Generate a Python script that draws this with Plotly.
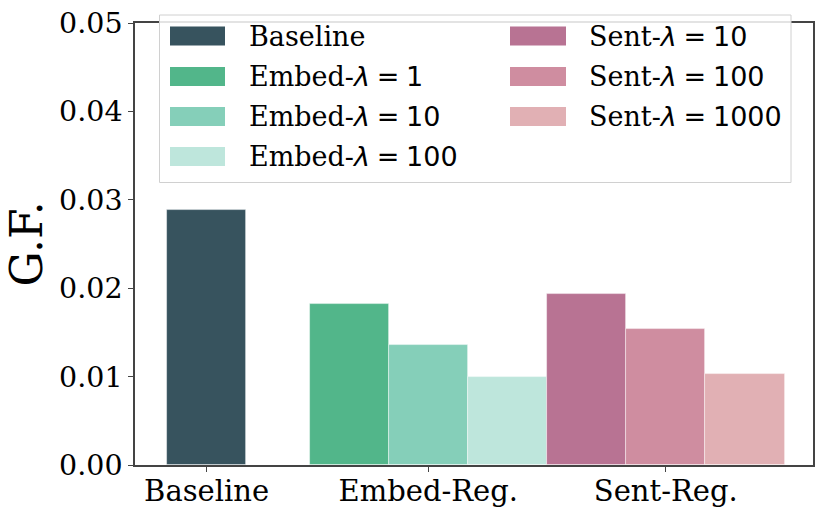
import plotly.graph_objects as go

# ---------------- data ----------------
categories = ["Baseline", "Embed-Reg.", "Sent-Reg."]

baseline_name = "Baseline"
baseline_value = [0.0288]

embed_lambdas = ["1", "10", "100"]
embed_values = [0.0182, 0.0136, 0.0099]

sent_lambdas = ["10", "100", "1000"]
sent_values = [0.0193, 0.0154, 0.0103]

y_ticks = [0.00, 0.01, 0.02, 0.03, 0.04, 0.05]
y_tick_labels = ["0.00", "0.01", "0.02", "0.03", "0.04", "0.05"]

# ---------------- style ----------------
baseline_color = "#37535E"
embed_colors = ["#52B68A", "#85CFB9", "#BEE6DC"]
sent_colors = ["#B87393", "#CF8DA0", "#E1B0B4"]

SERIF = "DejaVu Serif"
W, H = 830, 519
L, R, T, B = 135, 17, 23, 54
plot_w = W - L - R
plot_h = H - T - B

cat_pos = [0.0, 2.8, 5.8]      # category centres (bar-width units)
offsets = [-1.0, 0.0, 1.0]      # dodge within group
bar_w = 1.0
edge = dict(color="rgba(255,255,255,0.55)", width=0.8)
SP = "\u2005"


def lam_label(prefix, val):
    return (f"{prefix}-<span style=\"font-family:DejaVu Sans\"><i>λ</i>{SP}={SP}{val}</span>")


fig = go.Figure()

fig.add_trace(go.Bar(x=[cat_pos[0]], y=baseline_value, width=bar_w,
                     marker=dict(color=baseline_color, line=edge),
                     name=baseline_name, showlegend=False))
for i, (lam, v) in enumerate(zip(embed_lambdas, embed_values)):
    fig.add_trace(go.Bar(x=[cat_pos[1] + offsets[i]], y=[v], width=bar_w,
                         marker=dict(color=embed_colors[i], line=edge),
                         name=f"Embed-λ = {lam}", showlegend=False))
for i, (lam, v) in enumerate(zip(sent_lambdas, sent_values)):
    fig.add_trace(go.Bar(x=[cat_pos[2] + offsets[i]], y=[v], width=bar_w,
                         marker=dict(color=sent_colors[i], line=edge),
                         name=f"Sent-λ = {lam}", showlegend=False))

# ---------------- manual legend (matplotlib style) ----------------
def px2x(px):
    return (px - L) / plot_w


def px2y(py):
    return (H - B - py) / plot_h


shapes = []
annotations = []
shapes.append(dict(type="rect", xref="paper", yref="paper",
                   x0=px2x(159.5), x1=px2x(791), y0=px2y(182.5), y1=px2y(15),
                   line=dict(color="#D0D0D0", width=1), fillcolor="rgba(255,255,255,0.85)",
                   layer="above"))

col1 = [(baseline_name, baseline_color)] + \
       [(lam_label("Embed", l), c) for l, c in zip(embed_lambdas, embed_colors)]
col2 = [(lam_label("Sent", l), c) for l, c in zip(sent_lambdas, sent_colors)]
row_y = [36, 76.5, 116.5, 156.5]
for col, (sx0, sx1, tx) in zip([col1, col2], [(170, 225, 247), (510, 566, 587)]):
    for r, (txt, c) in enumerate(col):
        yc = row_y[r]
        shapes.append(dict(type="rect", xref="paper", yref="paper",
                           x0=px2x(sx0), x1=px2x(sx1), y0=px2y(yc + 9.5), y1=px2y(yc - 9.5),
                           line=dict(width=0), fillcolor=c, layer="above"))
        annotations.append(dict(xref="paper", yref="paper", x=px2x(tx), y=px2y(yc),
                                xanchor="left", yanchor="middle", text=txt, showarrow=False,
                                font=dict(family=SERIF, size=27, color="black")))

fig.update_layout(
    width=W, height=H,
    margin=dict(l=L, r=R, t=T, b=B, pad=0, autoexpand=False),
    plot_bgcolor="white", paper_bgcolor="white",
    barmode="overlay", bargap=0,
    showlegend=False,
    shapes=shapes, annotations=annotations,
    font=dict(family=SERIF, color="black"),
)
fig.update_xaxes(
    range=[-0.905, 7.66], automargin=False,
    tickvals=cat_pos, ticktext=categories,
    tickfont=dict(family=SERIF, size=29, color="black"),
    ticks="outside", ticklen=5, tickwidth=1.2, tickcolor="#444",
    ticklabelstandoff=-6,
    showline=True, linecolor="#444", linewidth=1.5, mirror=True,
    showgrid=False, zeroline=False,
)
fig.update_yaxes(
    range=[0, 0.05], automargin=False,
    tickvals=y_ticks, ticktext=y_tick_labels,
    tickfont=dict(family=SERIF, size=28.5, color="black"),
    ticks="outside", ticklen=5, tickwidth=1.2, tickcolor="#444",
    showline=True, linecolor="#444", linewidth=1.5, mirror=True,
    showgrid=False, zeroline=False,
    title=dict(text="G.F.", font=dict(family=SERIF, size=44, color="black"), standoff=3),
)

fig.write_html("out.html", config={"displayModeBar": False},
               post_script="document.body.style.margin='0';document.body.style.overflow='hidden';")
